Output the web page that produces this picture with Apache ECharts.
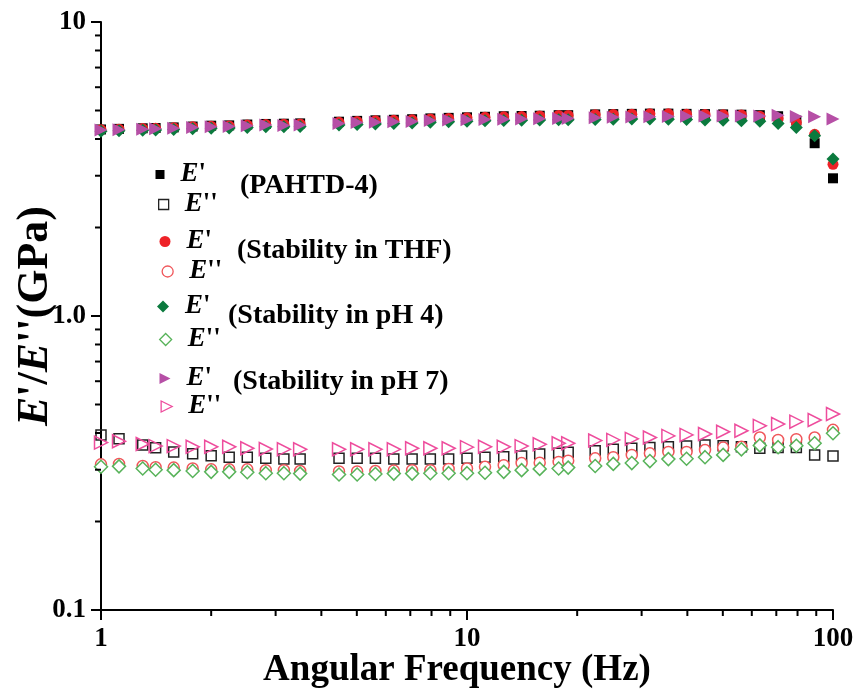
<!DOCTYPE html>
<html>
<head>
<meta charset="utf-8">
<script src="https://cdn.jsdelivr.net/npm/echarts@6/dist/echarts.min.js"></script>
<style>
  html, body { margin: 0; padding: 0; background: #fff; }
  #chart { width: 854px; height: 690px; }
</style>
</head>
<body>
<div id="chart"></div>
<script>
// Angular frequency sweep (Hz)
const freq = [1, 1.12, 1.3, 1.41, 1.58, 1.78, 2.0, 2.24, 2.51, 2.82, 3.16, 3.5, 4.47, 5.01, 5.62, 6.31, 7.08, 7.94, 8.91,
              10, 11.2, 12.6, 14.1, 15.8, 17.8, 18.9, 22.4, 25.1, 28.2, 31.6, 35.5, 39.8, 44.7, 50.1, 56.2, 63.1, 70.8, 79.4, 89.1, 100];

// Storage modulus E' and loss modulus E'' (GPa)
const pahtdStorage = [4.31, 4.33, 4.35, 4.36, 4.38, 4.41, 4.44, 4.45, 4.48, 4.50, 4.51, 4.52, 4.58, 4.61, 4.63, 4.65, 4.67, 4.70, 4.72,
                      4.74, 4.76, 4.78, 4.79, 4.80, 4.82, 4.82, 4.85, 4.86, 4.87, 4.88, 4.88, 4.87, 4.86, 4.85, 4.84, 4.82, 4.78, 4.62, 3.87, 2.94];
const pahtdLoss = [0.394, 0.382, 0.364, 0.356, 0.345, 0.340, 0.335, 0.331, 0.331, 0.328, 0.326, 0.326, 0.328, 0.328, 0.328, 0.326, 0.326, 0.326, 0.326,
                   0.328, 0.331, 0.332, 0.334, 0.339, 0.341, 0.344, 0.348, 0.352, 0.355, 0.357, 0.359, 0.361, 0.364, 0.362, 0.359, 0.355, 0.357, 0.357, 0.337, 0.334];

const thfStorage = [4.30, 4.32, 4.34, 4.35, 4.37, 4.40, 4.42, 4.43, 4.46, 4.48, 4.49, 4.50, 4.56, 4.59, 4.61, 4.63, 4.65, 4.68, 4.70,
                    4.72, 4.74, 4.76, 4.77, 4.79, 4.81, 4.81, 4.84, 4.85, 4.86, 4.87, 4.87, 4.86, 4.85, 4.84, 4.83, 4.78, 4.70, 4.55, 4.15, 3.28];
const thfLoss = [0.313, 0.314, 0.309, 0.306, 0.305, 0.303, 0.301, 0.301, 0.301, 0.299, 0.299, 0.297, 0.296, 0.296, 0.297, 0.298, 0.299, 0.299, 0.302,
                 0.303, 0.307, 0.311, 0.316, 0.317, 0.319, 0.322, 0.328, 0.331, 0.337, 0.341, 0.345, 0.345, 0.350, 0.357, 0.359, 0.386, 0.379, 0.381, 0.386, 0.410];

const ph4Storage = [4.25, 4.27, 4.28, 4.29, 4.31, 4.33, 4.35, 4.36, 4.38, 4.40, 4.40, 4.41, 4.46, 4.48, 4.50, 4.52, 4.53, 4.56, 4.58,
                    4.60, 4.61, 4.62, 4.63, 4.64, 4.65, 4.65, 4.66, 4.67, 4.68, 4.68, 4.67, 4.66, 4.64, 4.63, 4.61, 4.60, 4.52, 4.38, 4.10, 3.42];
const ph4Loss = [0.307, 0.308, 0.303, 0.300, 0.299, 0.297, 0.295, 0.295, 0.294, 0.292, 0.292, 0.291, 0.289, 0.289, 0.290, 0.291, 0.291, 0.292, 0.292,
                 0.292, 0.293, 0.295, 0.299, 0.302, 0.303, 0.305, 0.309, 0.314, 0.316, 0.321, 0.326, 0.327, 0.331, 0.337, 0.352, 0.363, 0.358, 0.362, 0.369, 0.399];

const ph7Storage = [4.29, 4.30, 4.32, 4.33, 4.35, 4.38, 4.40, 4.41, 4.44, 4.46, 4.45, 4.46, 4.52, 4.55, 4.56, 4.58, 4.59, 4.62, 4.64,
                    4.65, 4.66, 4.67, 4.68, 4.69, 4.70, 4.70, 4.72, 4.74, 4.75, 4.76, 4.77, 4.78, 4.79, 4.79, 4.79, 4.79, 4.82, 4.77, 4.76, 4.68];
const ph7Loss = [0.371, 0.375, 0.367, 0.361, 0.361, 0.359, 0.359, 0.359, 0.355, 0.353, 0.352, 0.352, 0.352, 0.352, 0.352, 0.352, 0.355, 0.355, 0.355,
                 0.358, 0.359, 0.359, 0.361, 0.366, 0.369, 0.369, 0.377, 0.379, 0.382, 0.386, 0.391, 0.394, 0.397, 0.404, 0.407, 0.423, 0.429, 0.437, 0.443, 0.464];

// Sample labels and axis tick values
const sampleLabels = ['(PAHTD-4)', '(Stability in THF)', '(Stability in pH 4)', '(Stability in pH 7)'];
const xMinorTicks = [2, 3, 4, 5, 6, 7, 8, 9, 20, 30, 40, 50, 60, 70, 80, 90];
const yMinorTicks = [0.2, 0.3, 0.4, 0.5, 0.6, 0.7, 0.8, 0.9, 2, 3, 4, 5, 6, 7, 8, 9];

const SERIF = "'Liberation Serif', 'Times New Roman', serif";
const FS = 27;

// Right-pointing triangle used for the pH 7 markers in the legend
const RIGHT_TRIANGLE = 'path://M0,0 L10,5 L0,10 Z';

// Marker styles per sample
const styles = [
  { symbol: 'rect',     rotate: 0,   icon: 'rect',         solid: '#000000', hollow: '#222222', size: 10, hSize: 10, lSize: 9,  lhSize: 10, hollowFill: 'rgba(255,255,255,0)' },
  { symbol: 'circle',   rotate: 0,   icon: 'circle',       solid: '#ee2228', hollow: '#f0565a', size: 11, hSize: 11, lSize: 11, lhSize: 11, hollowFill: '#ffffff' },
  { symbol: 'diamond',  rotate: 0,   icon: 'diamond',      solid: '#0b7a3e', hollow: '#58b35a', size: 13, hSize: 13, lSize: 12, lhSize: 12, hollowFill: '#ffffff' },
  { symbol: 'triangle', rotate: -90, icon: RIGHT_TRIANGLE, solid: '#b64fa6', hollow: '#ee4d9d', size: 13, hSize: 13, lSize: 11, lhSize: 11, hollowFill: 'rgba(255,255,255,0)' }
];
const storageSets = [pahtdStorage, thfStorage, ph4Storage, ph7Storage];
const lossSets = [pahtdLoss, thfLoss, ph4Loss, ph7Loss];

const pairs = (vals) => freq.map((f, i) => [f, vals[i]]);

const series = [];
const legendItems = [];
sampleLabels.forEach((label, g) => {
  const st = styles[g];
  const nameS = label + " E'";
  const nameL = label + " E''";
  series.push({
    name: nameS, type: 'scatter', data: pairs(storageSets[g]),
    symbol: st.symbol, symbolRotate: st.rotate, symbolSize: st.size,
    itemStyle: { color: st.solid, opacity: 1 }, z: 2 + g
  });
  series.push({
    name: nameL, type: 'scatter', data: pairs(lossSets[g]),
    symbol: st.symbol, symbolRotate: st.rotate, symbolSize: st.hSize,
    itemStyle: { color: st.hollowFill, borderColor: st.hollow, borderWidth: 1.5, opacity: 1 }, z: 2 + g
  });
  legendItems.push({ name: nameS, prime: "'", icon: st.icon, size: st.lSize,
    itemStyle: { color: st.solid, borderWidth: 0 } });
  legendItems.push({ name: nameL, prime: "''", icon: st.icon, size: st.lhSize,
    itemStyle: { color: st.hollowFill, borderColor: st.hollow, borderWidth: 1.3 } });
});

// Minor ticks of the logarithmic axes, placed through the axis scales
series.push({
  type: 'custom', silent: true, z: 10,
  data: xMinorTicks.map(v => [v, 0.1]),
  renderItem: (params, api) => {
    const p = api.coord([api.value(0), api.value(1)]);
    return { type: 'line', shape: { x1: p[0], y1: p[1], x2: p[0], y2: p[1] + 6 }, style: { stroke: '#000', lineWidth: 2 } };
  }
});
series.push({
  type: 'custom', silent: true, z: 10,
  data: yMinorTicks.map(v => [1, v]),
  renderItem: (params, api) => {
    const p = api.coord([api.value(0), api.value(1)]);
    return { type: 'line', shape: { x1: p[0], y1: p[1], x2: p[0] - 6, y2: p[1] }, style: { stroke: '#000', lineWidth: 2 } };
  }
});

// Legend rows: icon centre positions
const legendSlots = [[160, 176], [163, 206], [165, 243], [167, 273], [163, 308], [165, 341], [165, 380], [166, 408]];
const legendRich = {
  sp: { width: 11 },
  e: { fontFamily: SERIF, fontStyle: 'italic', fontWeight: 'bold', fontSize: FS, color: '#000', lineHeight: 30 },
  p: { fontFamily: SERIF, fontWeight: 'bold', fontSize: FS, color: '#000', lineHeight: 30 }
};
const legends = legendItems.map((it, i) => {
  const [cx, cy] = legendSlots[i];
  return {
    show: true, orient: 'vertical', padding: 0, selectedMode: false,
    left: cx - it.size / 2, top: cy - 15,
    itemWidth: it.size, itemHeight: it.size,
    data: [{ name: it.name, icon: it.icon, itemStyle: it.itemStyle }],
    formatter: () => '{sp|}{e|E}{p|' + it.prime + '}',
    textStyle: { rich: legendRich }
  };
});

// Sample label positions beside each legend pair
const labelSlots = [[240, 186], [237, 251], [228, 316], [233, 382]];
const graphics = sampleLabels.map((t, i) => ({
  type: 'text', left: labelSlots[i][0], top: labelSlots[i][1] - 15, z: 100,
  style: { text: t, fontFamily: SERIF, fontWeight: 'bold', fontSize: 28, fill: '#000', lineHeight: 30 }
}));

const axisCommon = {
  type: 'log', logBase: 10,
  nameMoveOverlap: false,
  axisLine: { show: true, lineStyle: { color: '#000', width: 2 } },
  axisTick: { show: true, inside: false, length: 10, lineStyle: { color: '#000', width: 2 } },
  splitLine: { show: false },
  minorTick: { show: false },
  axisLabel: { fontFamily: SERIF, fontWeight: 'bold', fontSize: FS, color: '#000' }
};

const option = {
  animation: false,
  backgroundColor: '#ffffff',
  grid: { left: 101, right: 21, top: 22, bottom: 80, containLabel: false, outerBoundsMode: 'none' },
  xAxis: Object.assign({}, axisCommon, {
    min: 1, max: 100,
    axisLabel: Object.assign({}, axisCommon.axisLabel, { margin: 16 }),
    name: 'Angular Frequency (Hz)', nameLocation: 'middle', nameGap: 42,
    nameTextStyle: { fontFamily: SERIF, fontWeight: 'bold', fontSize: 37, color: '#000', padding: [0, 20, 0, 0] }
  }),
  yAxis: Object.assign({}, axisCommon, {
    min: 0.1, max: 10,
    axisLabel: Object.assign({}, axisCommon.axisLabel, {
      margin: 15,
      formatter: v => (Math.abs(v - 1) < 1e-9 ? '1.0' : String(v))
    }),
    name: "{e|E}'/{e|E}''(GPa)", nameLocation: 'middle', nameGap: 43,
    nameTextStyle: {
      fontFamily: SERIF, fontWeight: 'bold', fontSize: 44, color: '#000',
      rich: { e: { fontFamily: SERIF, fontStyle: 'italic', fontWeight: 'bold', fontSize: 44, color: '#000' } }
    }
  }),
  legend: legends,
  graphic: graphics,
  series: series
};

const chart = echarts.init(document.getElementById('chart'));
chart.setOption(option);
</script>
</body>
</html>
